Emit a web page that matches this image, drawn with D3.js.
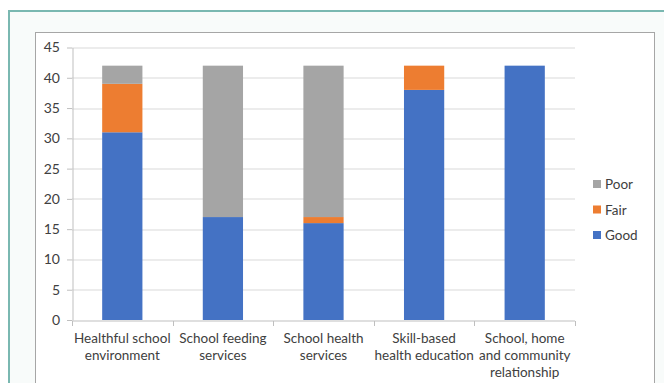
<!DOCTYPE html>
<html>
<head>
<meta charset="utf-8">
<script src="https://cdn.jsdelivr.net/npm/d3@7"></script>
<style>
  html, body { margin: 0; padding: 0; background: #fff; }
  svg { display: block; font-family: Lato, "Open Sans", sans-serif; }
</style>
</head>
<body>
<div class="js-chart"></div>
<script>
'use strict';

// data
const categories = [
    ['Healthful school', 'environment'],
    ['School feeding', 'services'],
    ['School health', 'services'],
    ['Skill-based', 'health education'],
    ['School, home', 'and community', 'relationship']
];
const good = [31, 17, 16, 38, 42];
const fair = [8, 0, 1, 4, 0];
const poor = [3, 25, 25, 0, 0];
const seriesNames = ['Good', 'Fair', 'Poor'];
const yTicks = [0, 5, 10, 15, 20, 25, 30, 35, 40, 45];

const colors = { Good: '#4472c4', Fair: '#ed7d31', Poor: '#a5a5a5' };

const width = 664, height = 383;
const margin = { top: 47.5, right: 89, bottom: 63, left: 72 };
const graphWidth = width - margin.left - margin.right;
const graphHeight = height - margin.top - margin.bottom;

const svg = d3.select('.js-chart')
    .append('svg')
    .attr('width', width)
    .attr('height', height);

// outer frame + inner chart area
svg.append('rect')
    .attr('x', 9).attr('y', 11)
    .attr('width', width).attr('height', height)
    .attr('fill', '#f8fbfa')
    .attr('stroke', '#7ab8b1')
    .attr('stroke-width', 2);

svg.append('rect')
    .attr('x', 35.5).attr('y', 32.5)
    .attr('width', 619).attr('height', height)
    .attr('fill', '#fff')
    .attr('stroke', '#a6a6a6')
    .attr('stroke-width', 1);

const graph = svg.append('g')
    .attr('transform', `translate(${margin.left}, ${margin.top})`);

// table for the stack
const table = categories.map((c, i) => ({ i, Good: good[i], Fair: fair[i], Poor: poor[i] }));
const stacked = d3.stack().keys(seriesNames)(table);

// scales
const x = d3.scaleBand()
    .domain(d3.range(categories.length))
    .range([0, graphWidth])
    .paddingInner(0.6)
    .paddingOuter(0.3);
const xEdge = d3.scaleLinear().domain([0, categories.length]).range([0, graphWidth]);
const y = d3.scaleLinear().domain([0, 45]).range([graphHeight, 0]);

// gridlines
graph.append('g')
    .selectAll('line')
    .data(yTicks.filter(d => d > 0))
    .enter().append('line')
    .attr('x1', 0).attr('x2', graphWidth)
    .attr('y1', d => Math.round(y(d)) + 0.5)
    .attr('y2', d => Math.round(y(d)) + 0.5)
    .attr('stroke', '#d9d9d9');

// bars
graph.selectAll('g.series')
    .data(stacked)
    .enter().append('g')
    .attr('class', 'series')
    .attr('fill', d => colors[d.key])
    .selectAll('rect')
    .data(d => d)
    .enter().append('rect')
    .attr('x', d => x(d.data.i))
    .attr('width', x.bandwidth())
    .attr('y', d => y(d[1]))
    .attr('height', d => y(d[0]) - y(d[1]));

// y axis
const yAxisGroup = graph.append('g').attr('class', 'y-axis');
yAxisGroup.call(d3.axisLeft(y).tickValues(yTicks).tickSize(5).tickSizeOuter(0));
yAxisGroup.select('.domain').attr('stroke', '#bfbfbf').attr('transform', 'translate(0.5,0)');
yAxisGroup.selectAll('.tick line').attr('stroke', '#bfbfbf');
yAxisGroup.selectAll('text')
    .attr('fill', '#404040')
    .attr('font-size', 14)
    .attr('x', -12);
yAxisGroup.attr('font-family', null);

// x axis
const xAxisGroup = graph.append('g')
    .attr('class', 'x-axis')
    .attr('transform', `translate(0, ${Math.round(graphHeight) + 0.5})`);
xAxisGroup.append('line')
    .attr('x1', 0).attr('x2', graphWidth)
    .attr('stroke', '#bfbfbf');
xAxisGroup.selectAll('line.tick')
    .data(d3.range(categories.length + 1))
    .enter().append('line')
    .attr('class', 'tick')
    .attr('x1', d => Math.round(xEdge(d)) + 0.5)
    .attr('x2', d => Math.round(xEdge(d)) + 0.5)
    .attr('y1', 0).attr('y2', 5)
    .attr('stroke', '#bfbfbf');

const labels = xAxisGroup.selectAll('text')
    .data(categories)
    .enter().append('text')
    .attr('text-anchor', 'middle')
    .attr('fill', '#404040')
    .attr('font-size', 13.5)
    .attr('transform', (d, i) => `translate(${xEdge(i + 0.5)}, 0)`);
labels.selectAll('tspan')
    .data(d => d)
    .enter().append('tspan')
    .attr('x', 0)
    .attr('y', (d, j) => 22 + j * 17)
    .text(d => d);

// legend
const legend = svg.append('g')
    .attr('transform', 'translate(593, 179)');
const legendItems = legend.selectAll('g')
    .data(seriesNames.slice().reverse())
    .enter().append('g')
    .attr('transform', (d, i) => `translate(0, ${i * 25.5})`);
legendItems.append('rect')
    .attr('width', 8).attr('height', 8)
    .attr('x', 0).attr('y', 1)
    .attr('fill', d => colors[d]);
legendItems.append('text')
    .attr('x', 12).attr('y', 10)
    .attr('font-size', 13.5)
    .attr('fill', '#404040')
    .text(d => d);
</script>
</body>
</html>
